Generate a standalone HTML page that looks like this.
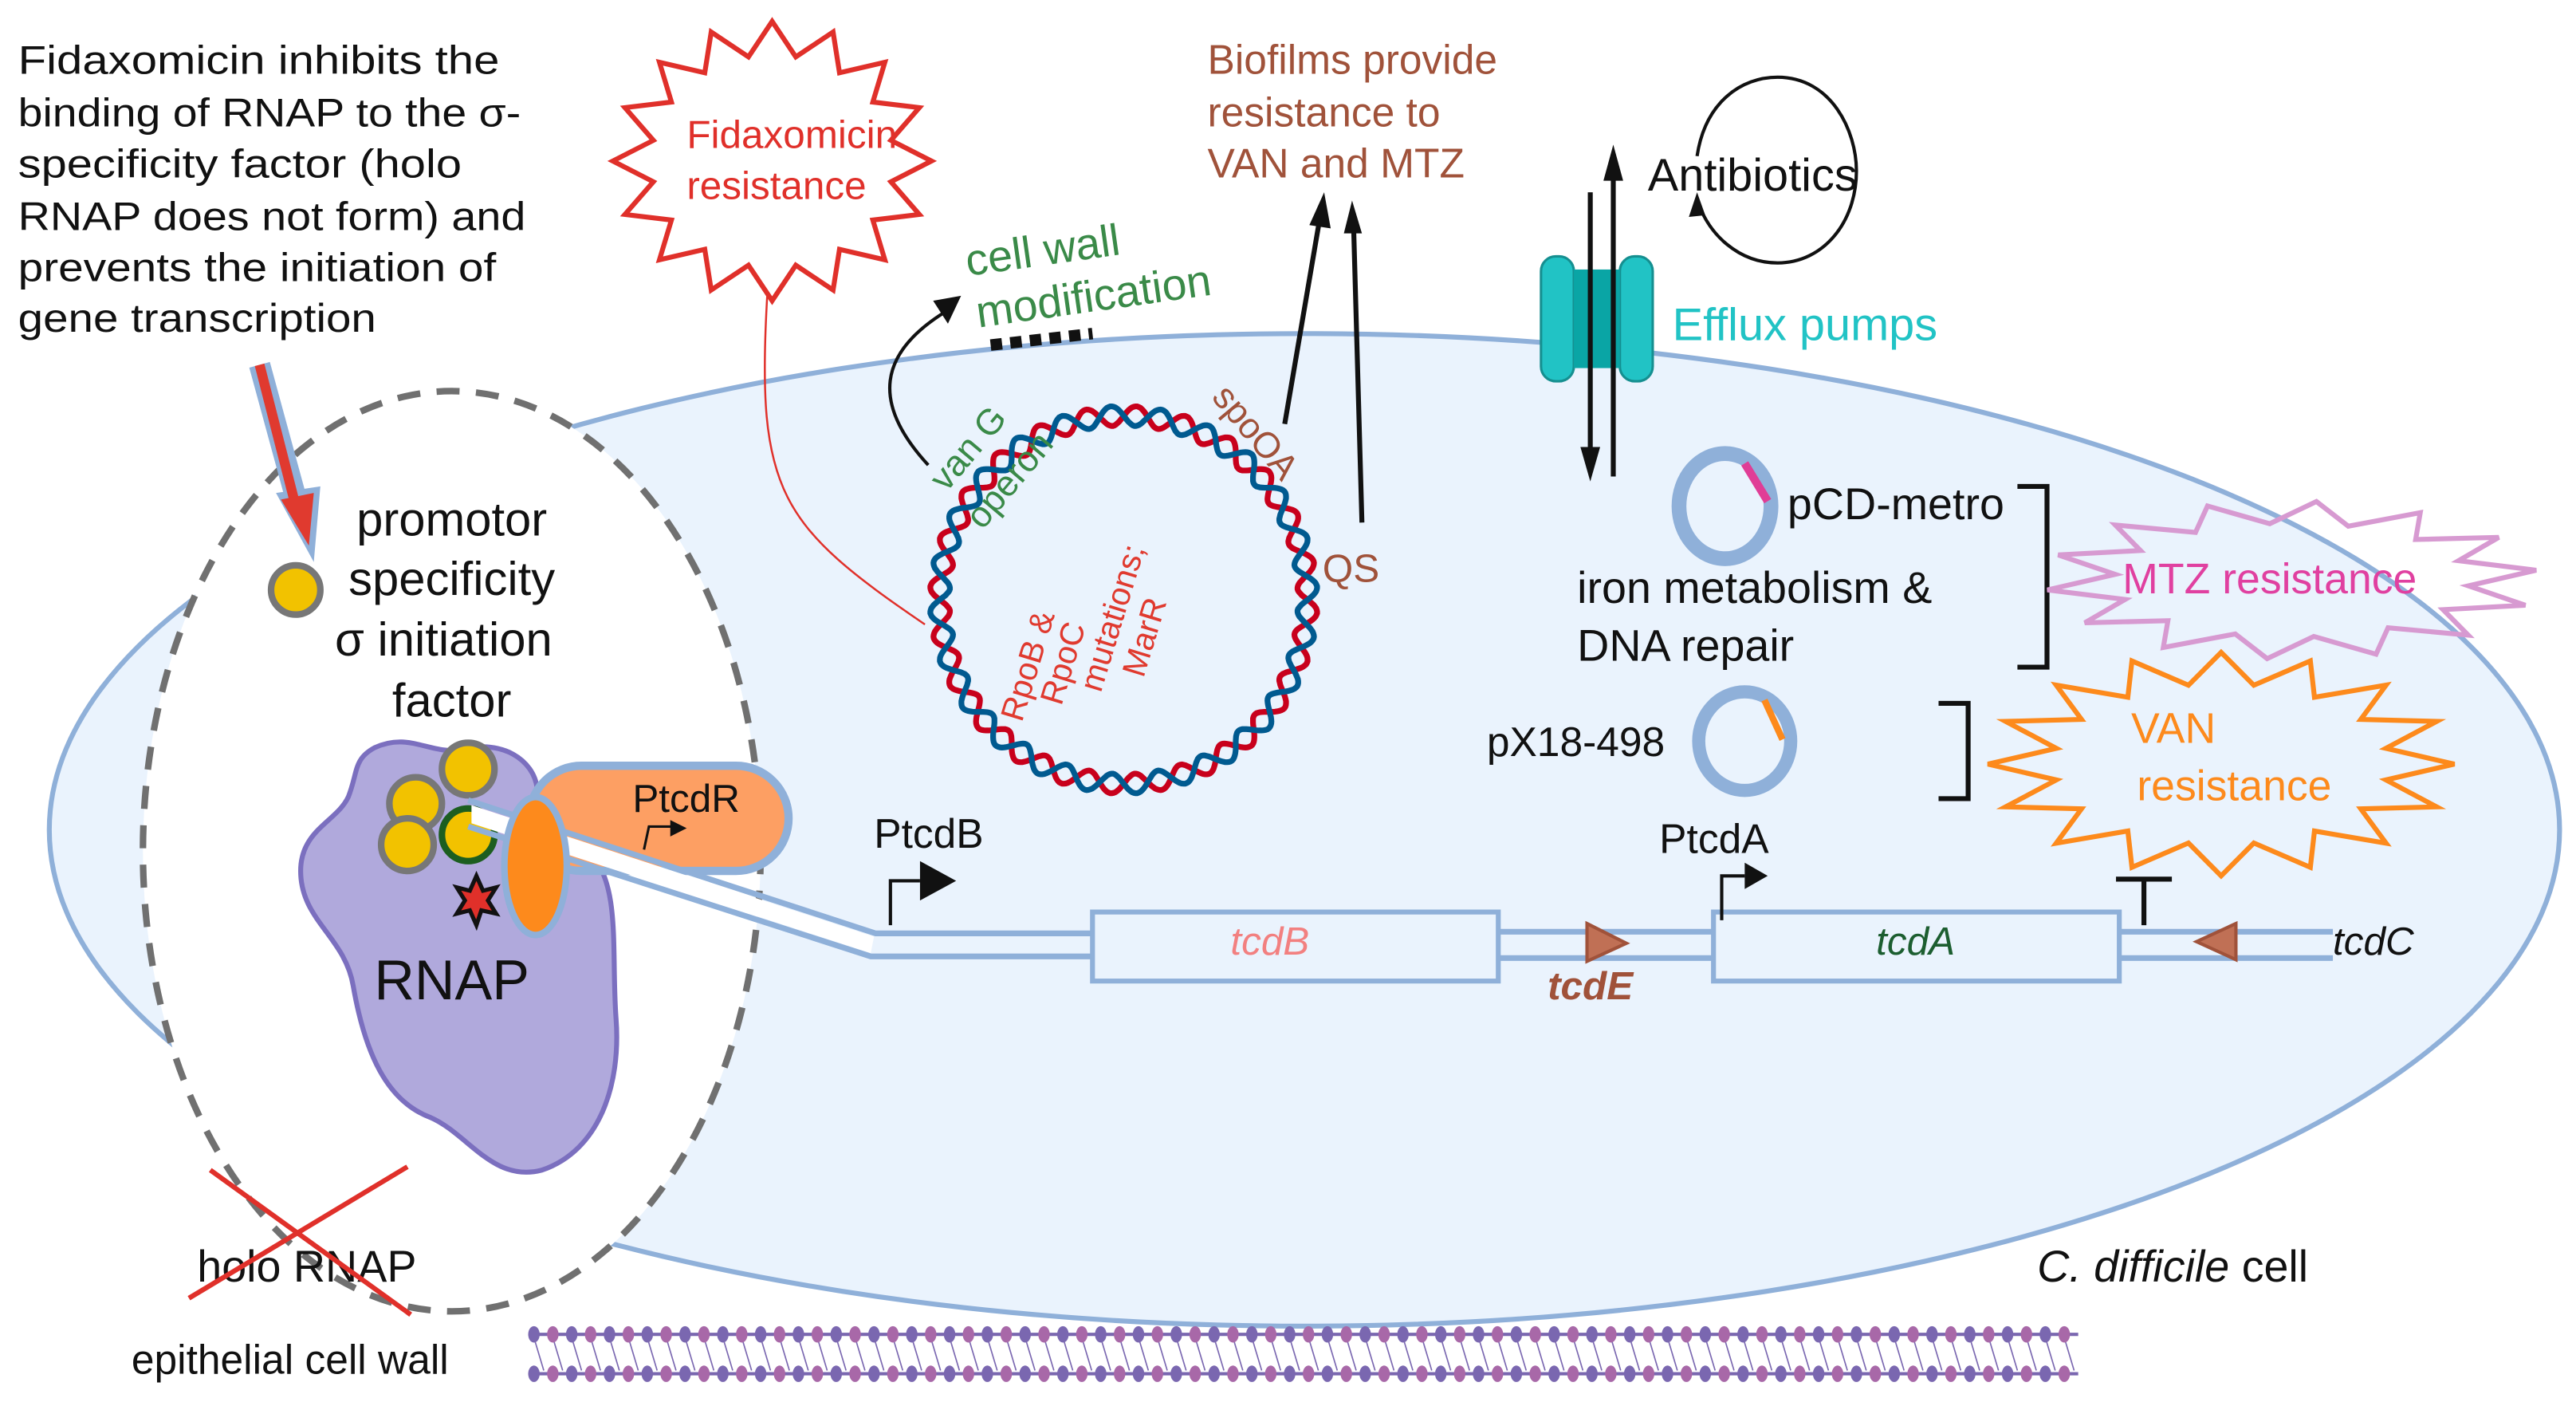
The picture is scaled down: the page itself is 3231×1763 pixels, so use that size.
<!DOCTYPE html>
<html><head><meta charset="utf-8"><style>
html,body{margin:0;padding:0;background:#fff;width:3231px;height:1763px;overflow:hidden}
svg{display:block}
text{font-family:"Liberation Sans",sans-serif}
</style></head><body>
<svg id="s" width="3231" height="1763" viewBox="0 0 1568 855.6" preserveAspectRatio="none" xmlns="http://www.w3.org/2000/svg">
<!-- cell -->
<ellipse cx="794" cy="505" rx="764" ry="302" fill="#eaf3fd" stroke="#8fb0d9" stroke-width="3"/>
<!-- dashed circle -->
<ellipse cx="275" cy="518" rx="188" ry="280" fill="#fff" stroke="#707070" stroke-width="4" stroke-dasharray="14 10"/>
<!-- top-left text -->
<g font-size="24.5" fill="#111">
<text x="11" y="45" textLength="293" lengthAdjust="spacingAndGlyphs">Fidaxomicin  inhibits the</text>
<text x="11" y="77" textLength="306" lengthAdjust="spacingAndGlyphs">binding of RNAP to the σ-</text>
<text x="11" y="108" textLength="270" lengthAdjust="spacingAndGlyphs">specificity factor (holo</text>
<text x="11" y="140" textLength="309" lengthAdjust="spacingAndGlyphs">RNAP does not form) and</text>
<text x="11" y="171" textLength="291" lengthAdjust="spacingAndGlyphs">prevents the initiation of</text>
<text x="11" y="202" textLength="218" lengthAdjust="spacingAndGlyphs">gene transcription</text>
</g>
<!-- red arrow -->
<path d="M158,222 L182,310" stroke="#8fb0d9" stroke-width="13" fill="none"/>
<polygon points="168,300 195,296 191,342" fill="#8fb0d9"/>
<path d="M158,222 L180,308" stroke="#e03a2f" stroke-width="6" fill="none"/>
<polygon points="171,304 191,300 188,332" fill="#e03a2f"/>
<circle cx="180" cy="359" r="15" fill="#f2c200" stroke="#777" stroke-width="4"/>
<g font-size="29" fill="#111" text-anchor="middle">
<text x="275" y="326">promotor</text>
<text x="275" y="362">specificity</text>
<text x="270" y="399">σ initiation</text>
<text x="275" y="436">factor</text>
</g>
<!-- RNAP blob -->
<path d="M228,455 C250,445 262,460 282,456 C305,450 325,462 327,480 C330,500 345,505 360,520 C378,540 372,580 375,620 C378,660 365,700 330,712 C300,720 285,690 262,680 C235,670 222,640 215,600 C210,570 183,560 183,530 C183,505 205,500 212,485 C218,470 215,462 228,455 Z" fill="#b0a9dc" stroke="#7b6fbf" stroke-width="3"/>
<circle cx="285" cy="468" r="16" fill="#f2c200" stroke="#777" stroke-width="4"/>
<circle cx="253" cy="489" r="16" fill="#f2c200" stroke="#777" stroke-width="4"/>
<circle cx="285" cy="508" r="16" fill="#f2c200" stroke="#1c5e20" stroke-width="4"/>
<circle cx="248" cy="514" r="16" fill="#f2c200" stroke="#777" stroke-width="4"/>
<polygon points="290,533 294,542 302,540 297,548 302,556 293,554 290,563 286,554 278,556 283,548 278,540 286,542" fill="#e0302a" stroke="#111" stroke-width="2.5"/>
<text x="275" y="608" font-size="34" fill="#111" text-anchor="middle">RNAP</text>
<!-- PtcdR -->
<rect x="322" y="466" width="158" height="64" rx="32" fill="#fd9f63" stroke="#8fb0d9" stroke-width="5"/>
<text x="385" y="494" font-size="24" fill="#111">PtcdR</text>
<path d="M392,517 L395,503 L410,503" stroke="#111" stroke-width="1.5" fill="none"/>
<polygon points="408,499 418,504 408,509" fill="#111"/>
<!-- DNA tube -->
<path d="M285,487 L533,568 L665,568 M285,503 L530,582 L665,582" stroke="#8fb0d9" stroke-width="3.5" fill="none"/>
<path d="M287,490 L532,570 L530,580 L287,501 Z" fill="#fff"/>
<path d="M912,567 L1043,567 M912,583 L1043,583 M1290,567 L1420,567 M1290,583 L1420,583" stroke="#8fb0d9" stroke-width="3.5" fill="none"/>
<ellipse cx="326" cy="527" rx="19" ry="42" fill="#fd8a1c" stroke="#8fb0d9" stroke-width="4"/>
<rect x="665" y="555" width="247" height="42" fill="#eaf3fd" stroke="#8fb0d9" stroke-width="3"/>
<rect x="1043" y="555" width="247" height="42" fill="#eaf3fd" stroke="#8fb0d9" stroke-width="3"/>
<text x="773" y="581" font-size="24" font-style="italic" fill="#f28080" text-anchor="middle">tcdB</text>
<text x="1166" y="581" font-size="24" font-style="italic" fill="#1c5e30" text-anchor="middle">tcdA</text>
<polygon points="966,562 990,574 966,585" fill="#c07055" stroke="#a0523a" stroke-width="2"/>
<polygon points="1361,562 1337,573 1361,584" fill="#c07055" stroke="#a0523a" stroke-width="2"/>
<text x="968" y="608" font-size="24" font-weight="bold" font-style="italic" fill="#a0523a" text-anchor="middle">tcdE</text>
<text x="1420" y="581" font-size="24" font-style="italic" fill="#111">tcdC</text>
<text x="532" y="516" font-size="25" fill="#111">PtcdB</text>
<path d="M542,563 L542,536 L560,536" stroke="#111" stroke-width="2" fill="none"/>
<polygon points="560,524 582,536 560,548" fill="#111"/>
<text x="1010" y="519" font-size="25" fill="#111">PtcdA</text>
<path d="M1048,560 L1048,533 L1062,533" stroke="#111" stroke-width="2" fill="none"/>
<polygon points="1062,525 1076,533 1062,541" fill="#111"/>
<path d="M1305,535 L1305,563 M1288,535 L1322,535" stroke="#111" stroke-width="3" fill="none"/>
<!-- Fidaxomicin star -->
<polygon id="redstar" fill="#fff" stroke="#e0302a" stroke-width="3"/>
<text x="418" y="90" font-size="24" fill="#e0302a">Fidaxomicin</text>
<text x="418" y="121" font-size="24" fill="#e0302a">resistance</text>
<path d="M467,180 C460,300 475,320 563,380" stroke="#e0302a" stroke-width="1.2" fill="none"/>
<!-- cell wall modification -->
<g transform="rotate(-8 588 160)" font-size="27" fill="#3a8a48">
<text x="588" y="168">cell wall</text>
<text x="590" y="200">modification</text>
</g>
<path d="M603,210 L665,203" stroke="#111" stroke-width="7" stroke-dasharray="7 5" fill="none"/>
<path d="M565,283 C530,245 535,215 575,190" stroke="#111" stroke-width="2" fill="none"/>
<polygon points="568,183 585,180 577,197" fill="#111"/>
<!-- plasmid -->
<path id="w1" fill="none" stroke="#c8001c" stroke-width="3.5"/>
<path id="w2" fill="none" stroke="#005a90" stroke-width="3.5"/>
<text transform="translate(576,300) rotate(-50)" font-size="22" fill="#3a8a48">van G</text>
<text transform="translate(598,323) rotate(-50)" font-size="22" fill="#3a8a48">operon</text>
<text transform="translate(737,242) rotate(50)" font-size="22" fill="#a0523a">spoOA</text>
<g font-size="20" fill="#e03a2f">
<text transform="translate(622,440) rotate(-73)">RpoB &amp;</text>
<text transform="translate(646,430) rotate(-73)">RpoC</text>
<text transform="translate(670,422) rotate(-73)">mutations;</text>
<text transform="translate(696,413) rotate(-73)">MarR</text>
</g>
<text x="805" y="354" font-size="24" fill="#a0523a">QS</text>
<path d="M782,258 L803,135 M829,318 L824,140" stroke="#111" stroke-width="3" fill="none"/>
<polygon points="797,137 806,117 810,139" fill="#111"/>
<polygon points="818,142 823,122 829,142" fill="#111"/>
<g font-size="25" fill="#a0523a">
<text x="735" y="45">Biofilms provide</text>
<text x="735" y="77">resistance to</text>
<text x="735" y="108">VAN and MTZ</text>
</g>
<!-- antibiotics -->
<path d="M1033,95 C1038,62 1060,47 1082,47 C1115,47 1130,80 1130,104 C1130,135 1110,160 1082,160 C1058,160 1040,142 1034,124" stroke="#111" stroke-width="2" fill="none"/>
<polygon points="1028,132 1033,117 1038,131" fill="#111"/>
<text x="1003" y="116" font-size="28" fill="#111">Antibiotics</text>
<rect x="938" y="156" width="20" height="76" rx="9" fill="#21c3c5" stroke="#158f90" stroke-width="1.5"/>
<rect x="986" y="156" width="20" height="76" rx="9" fill="#21c3c5" stroke="#158f90" stroke-width="1.5"/>
<rect x="958" y="164" width="28" height="60" fill="#0aa5a5"/>
<path d="M982,290 L982,105 M968,117 L968,275" stroke="#111" stroke-width="3" fill="none"/>
<polygon points="976,110 982,88 988,110" fill="#111"/>
<polygon points="962,272 968,293 974,272" fill="#111"/>
<text x="1018" y="207" font-size="28" fill="#21c3c5">Efflux pumps</text>
<!-- pCD-metro -->
<ellipse cx="1050" cy="308" rx="28" ry="32" fill="none" stroke="#8fb0d9" stroke-width="9"/>
<path d="M1062,282 L1076,305" stroke="#e03d96" stroke-width="5"/>
<text x="1088" y="316" font-size="27" fill="#111">pCD-metro</text>
<text x="960" y="367" font-size="27" fill="#111">iron metabolism &amp;</text>
<text x="960" y="402" font-size="27" fill="#111">DNA repair</text>
<path d="M1228,296 L1246,296 L1246,406 L1228,406" stroke="#111" stroke-width="3" fill="none"/>
<polygon id="mtzstar" fill="none" stroke="#d79ad1" stroke-width="3"/>
<text x="1292" y="361" font-size="26" fill="#e040a0">MTZ resistance</text>
<!-- pX18 -->
<text x="905" y="460" font-size="25" fill="#111">pX18-498</text>
<ellipse cx="1062" cy="451" rx="28" ry="30" fill="none" stroke="#8fb0d9" stroke-width="8"/>
<path d="M1074,426 L1085,450" stroke="#fd8a1c" stroke-width="4"/>
<path d="M1180,428 L1198,428 L1198,486 L1180,486" stroke="#111" stroke-width="3" fill="none"/>
<polygon id="vanstar" fill="none" stroke="#fd8a1c" stroke-width="3"/>
<text x="1323" y="452" font-size="26" fill="#fd8a1c" text-anchor="middle">VAN</text>
<text x="1360" y="487" font-size="26" fill="#fd8a1c" text-anchor="middle">resistance</text>
<!-- bottom -->
<text x="120" y="780" font-size="27" fill="#111">holo RNAP</text>
<path d="M128,712 L250,800 M115,790 L248,710" stroke="#e0302a" stroke-width="3" fill="none"/>
<text x="1240" y="780" font-size="27" fill="#111"><tspan font-style="italic">C. difficile</tspan> cell</text>
<text x="80" y="836" font-size="25" fill="#111">epithelial cell wall</text>
<g id="chains"></g>
</svg>
<script>
(function(){
function star(id,cx,cy,rx,ry,n,k,rot){
 var p=[];for(var i=0;i<2*n;i++){var a=rot+Math.PI*i/n;var f=i%2?k:1;p.push((cx+rx*f*Math.sin(a)).toFixed(1)+","+(cy-ry*f*Math.cos(a)).toFixed(1));}
 document.getElementById(id).setAttribute("points",p.join(" "));}
star("redstar",470,98,97,85,16,0.76,0);
star("mtzstar",1395,353,150,48,14,0.72,0.1);
star("vanstar",1352,465,142,68,16,0.72,0);
function wave(id,ph){var d="";for(var i=0;i<=720;i++){var t=i/720*2*Math.PI;var r=112+6*Math.sin(t*24+ph);var x=684+r*Math.cos(t),y=365+r*Math.sin(t);d+=(i?"L":"M")+x.toFixed(1)+","+y.toFixed(1);}document.getElementById(id).setAttribute("d",d);}
wave("w1",0);wave("w2",Math.PI);
var g=document.getElementById("chains");var h="";
for(var x=325,i=0;x<1265;x+=11.5,i++){
 var c=i%2?"#a868a8":"#7a67b0";
 h+='<line x1="'+x+'" y1="814" x2="'+(x+6)+'" y2="834" stroke="#7a67b0" stroke-width="0.8"/>';
 h+='<ellipse cx="'+x+'" cy="812" rx="3.5" ry="5" fill="'+c+'"/>';
 h+='<ellipse cx="'+x+'" cy="836" rx="3.5" ry="5" fill="'+c+'"/>';
}
h='<line x1="325" y1="812" x2="1265" y2="812" stroke="#7a67b0" stroke-width="2"/><line x1="325" y1="836" x2="1265" y2="836" stroke="#7a67b0" stroke-width="2"/>'+h;
g.innerHTML=h;
})();
</script>
</body></html>
